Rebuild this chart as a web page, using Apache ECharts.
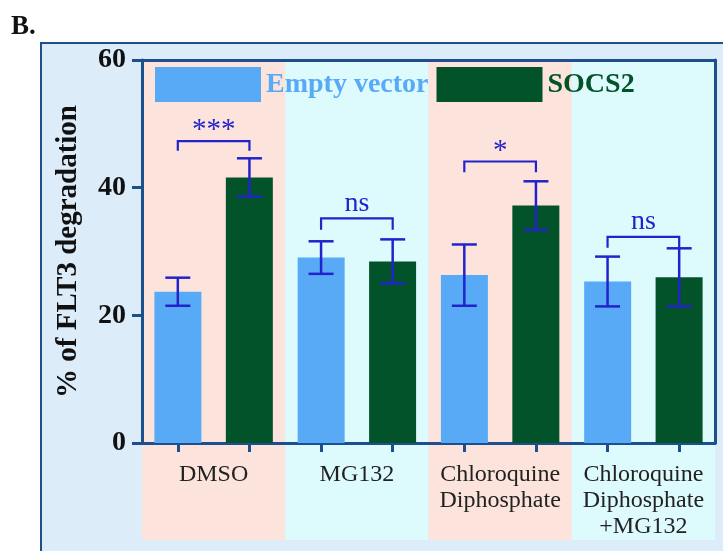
<!DOCTYPE html>
<html><head><meta charset="utf-8">
<script src="https://cdn.jsdelivr.net/npm/echarts@6/dist/echarts.min.js"></script>
<style>html,body{margin:0;padding:0;background:#fff}#c{width:723px;height:551px}</style>
</head><body><div id="c"></div>
<script>
// ---- data ----
const categories = ['DMSO', 'MG132', 'Chloroquine\nDiphosphate', 'Chloroquine\nDiphosphate\n+MG132'];
const seriesNames = ['Empty vector', 'SOCS2'];
const emptyVector = [23.7, 29.05, 26.3, 25.3];
const emptyVectorErr = [2.2, 2.55, 4.8, 3.9];
const socs2 = [41.6, 28.45, 37.2, 25.95];
const socs2Err = [3.0, 3.45, 3.8, 4.55];
const sigLabels = ['***', 'ns', '*', 'ns'];
const sigBracketY = [47.3, 35.2, 44.1, 32.3];
const sigLegY = [45.8, 33.4, 42.4, 30.6];
const yMin = 0, yMax = 60, yStep = 20;

// ---- styles ----
const AXIS = '#1d4f8e';
const ERR = '#2323cc';
const BLUE = '#58aaf6';
const GREEN = '#03532a';
const PINK = '#fce4dc';
const CYAN = '#ddfafd';
const PANEL = '#dcecf9';
const SERIF = '"Liberation Serif", "DejaVu Serif", serif';

const slots = categories.flatMap(c => seriesNames.map(s => c + '|' + s));

function errData(vals, errs) {
  return vals.map((v, i) => [i, v - errs[i], v + errs[i]]);
}
function errRender(side) {
  return function (params, api) {
    const c = api.value(0);
    const lo = api.coord([c, api.value(1)]);
    const hi = api.coord([c, api.value(2)]);
    const bw = api.size([1, 0])[0];
    const x = lo[0] + side * bw / 4;
    const cap = 12.5;
    const style = { stroke: ERR, lineWidth: 2.5 };
    return { type: 'group', children: [
      { type: 'line', shape: { x1: x, y1: hi[1], x2: x, y2: lo[1] }, style },
      { type: 'line', shape: { x1: x - cap, y1: hi[1], x2: x + cap, y2: hi[1] }, style },
      { type: 'line', shape: { x1: x - cap, y1: lo[1], x2: x + cap, y2: lo[1] }, style }
    ]};
  };
}
function sigRender(params, api) {
  const c = api.value(0);
  const top = api.coord([c, api.value(1)]);
  const leg = api.coord([c, api.value(2)]);
  const bw = api.size([1, 0])[0];
  const x1 = top[0] - bw / 4, x2 = top[0] + bw / 4;
  const lab = sigLabels[params.dataIndex];
  const isStar = lab.indexOf('*') >= 0;
  return { type: 'group', children: [
    { type: 'polyline', shape: { points: [[x1, leg[1]], [x1, top[1]], [x2, top[1]], [x2, leg[1]]] },
      style: { stroke: ERR, lineWidth: 2.2, fill: null } },
    { type: 'text', style: { text: lab, x: top[0], y: top[1] + (isStar ? 4 : -1), align: 'center', verticalAlign: 'bottom',
      fontSize: isStar ? 29 : 28, fontFamily: SERIF, fill: ERR } }
  ]};
}

const chart = echarts.init(document.getElementById('c'));
chart.setOption({
  backgroundColor: '#ffffff',
  animation: false,
  title: { text: 'B.', left: 11, top: 14, padding: 0,
    textStyle: { fontSize: 27, fontWeight: 'bold', fontFamily: SERIF, color: '#111' } },
  graphic: [{ type: 'rect', z: -10, shape: { x: 41, y: 43, width: 720, height: 540 },
    style: { fill: PANEL, stroke: AXIS, lineWidth: 2 } }],
  legend: {
    left: 155, top: 67, padding: 0, itemGap: 8, itemWidth: 106, itemHeight: 35, icon: 'rect',
    textStyle: { fontSize: 28, fontWeight: 'bold', fontFamily: SERIF, padding: [0, 0, 0, 0] },
    data: [
      { name: seriesNames[0], textStyle: { color: BLUE } },
      { name: seriesNames[1], textStyle: { color: GREEN } }
    ]
  },
  grid: [
    { left: 142, right: 8, top: 60, bottom: 108 },
    { left: 142, right: 8, top: 443, bottom: 11 }
  ],
  xAxis: [
    { type: 'category', gridIndex: 0, data: categories, position: 'bottom',
      axisLine: { show: true, lineStyle: { color: AXIS, width: 3 } },
      axisTick: { show: false },
      axisLabel: { interval: 0, margin: 19, fontSize: 24, lineHeight: 26, color: '#222', fontFamily: SERIF },
      splitLine: { show: false },
      splitArea: { show: true, areaStyle: { color: [PINK, CYAN] } } },
    { type: 'category', gridIndex: 0, data: slots, position: 'bottom',
      axisLine: { show: false },
      axisTick: { show: true, alignWithLabel: true, interval: 0, length: 9, lineStyle: { color: AXIS, width: 3 } },
      axisLabel: { show: false }, splitLine: { show: false } },
    { type: 'category', gridIndex: 0, data: categories, position: 'top',
      axisLine: { show: true, onZero: false, lineStyle: { color: AXIS, width: 3 } },
      axisTick: { show: false }, axisLabel: { show: false }, splitLine: { show: false } },
    { type: 'category', gridIndex: 1, data: categories, z: -1,
      axisLine: { show: false }, axisTick: { show: false }, axisLabel: { show: false },
      splitLine: { show: false },
      splitArea: { show: true, areaStyle: { color: [PINK, CYAN] } } }
  ],
  yAxis: [
    { type: 'value', gridIndex: 0, min: yMin, max: yMax, interval: yStep,
      axisLine: { show: true, lineStyle: { color: AXIS, width: 3 } },
      axisTick: { show: true, length: 10, lineStyle: { color: AXIS, width: 3 } },
      axisLabel: { margin: 16, fontSize: 28, fontWeight: 'bold', color: '#111', fontFamily: SERIF },
      splitLine: { show: false },
      name: '% of FLT3 degradation', nameLocation: 'middle', nameGap: 59,
      nameTextStyle: { fontSize: 29, fontWeight: 'bold', color: '#111', fontFamily: SERIF } },
    { type: 'value', gridIndex: 0, position: 'right', min: yMin, max: yMax,
      axisLine: { show: true, lineStyle: { color: AXIS, width: 3 } },
      axisTick: { show: false }, axisLabel: { show: false }, splitLine: { show: false } },
    { type: 'value', gridIndex: 1, show: false }
  ],
  series: [
    { name: seriesNames[0], type: 'bar', xAxisIndex: 0, yAxisIndex: 0, data: emptyVector,
      barWidth: 47, barGap: '52%', itemStyle: { color: BLUE } },
    { name: seriesNames[1], type: 'bar', xAxisIndex: 0, yAxisIndex: 0, data: socs2,
      barWidth: 47, barGap: '52%', itemStyle: { color: GREEN } },
    { type: 'custom', xAxisIndex: 0, yAxisIndex: 0, z: 5, clip: false,
      data: errData(emptyVector, emptyVectorErr), renderItem: errRender(-1), encode: { x: 0, y: [1, 2] } },
    { type: 'custom', xAxisIndex: 0, yAxisIndex: 0, z: 5, clip: false,
      data: errData(socs2, socs2Err), renderItem: errRender(1), encode: { x: 0, y: [1, 2] } },
    { type: 'custom', xAxisIndex: 0, yAxisIndex: 0, z: 5, clip: false,
      data: categories.map((c, i) => [i, sigBracketY[i], sigLegY[i]]),
      renderItem: sigRender, encode: { x: 0, y: [1, 2] } }
  ]
});
</script></body></html>
